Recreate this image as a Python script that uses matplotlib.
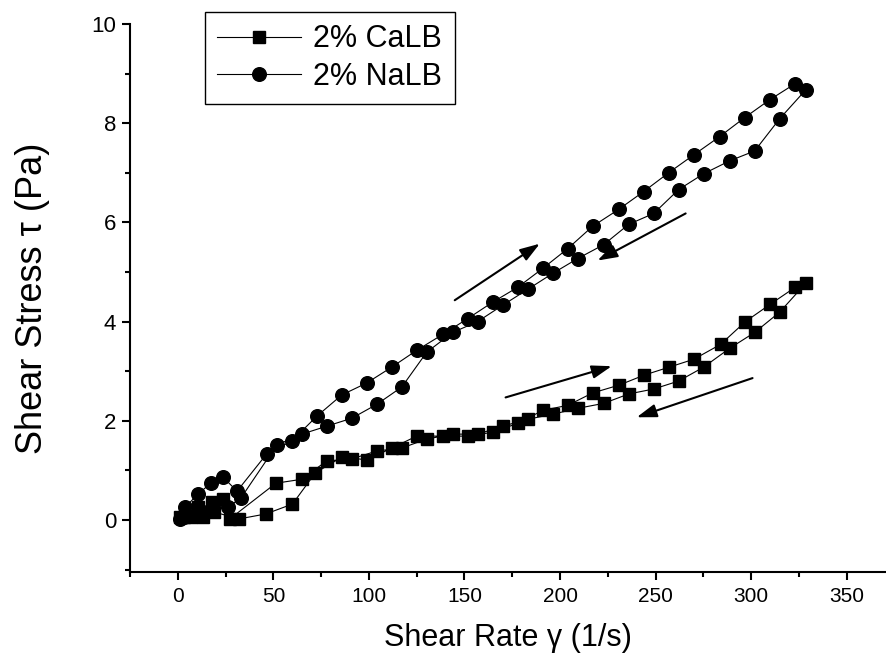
import matplotlib
matplotlib.use("Agg")
import matplotlib.pyplot as plt
from matplotlib.ticker import MultipleLocator

plt.rcParams['font.family'] = ['Liberation Sans', 'DejaVu Sans']

# ---- data ----
calb_x = [1, 7, 19, 32, 46, 60, 72, 86, 99, 112, 125, 139, 152, 165, 178, 191, 204, 217, 231, 244,
          257, 270, 284, 297, 310, 323,
          328.5, 314.9, 301.8, 288.7, 275.1, 262.0, 249.0, 235.9, 222.8, 209.2, 196.1, 183.1, 170.0,
          156.9, 143.8, 130.2, 117.2, 104.1, 91.0, 77.9, 64.9, 51.3, 27.2, 23.5, 17.8, 13.1, 10.5, 3]
calb_y = [0.06, 0.06, 0.16, 0.02, 0.12, 0.32, 0.95, 1.27, 1.21, 1.45, 1.69, 1.69, 1.69, 1.77, 1.95,
          2.21, 2.31, 2.56, 2.72, 2.92, 3.08, 3.24, 3.54, 4.00, 4.35, 4.69,
          4.77, 4.19, 3.78, 3.46, 3.08, 2.80, 2.64, 2.54, 2.35, 2.25, 2.13, 2.03, 1.89,
          1.73, 1.73, 1.63, 1.45, 1.39, 1.23, 1.19, 0.82, 0.74, 0.02, 0.42, 0.36, 0.06, 0.26, 0.05]

nalb_x = [1, 4, 10.5, 17.3, 23.5, 31, 46.5, 59.6, 72.7, 85.8, 98.8, 111.9, 125, 138.6, 151.7, 164.7,
          177.8, 190.9, 204, 217, 230.6, 243.7, 256.8, 269.9, 283.5, 296.5, 309.6, 322.7,
          328.5, 314.9, 301.8, 288.7, 275.1, 262.0, 249.0, 235.9, 222.8, 209.2, 196.1, 183.1, 170.0,
          156.9, 143.8, 130.2, 117.2, 104.1, 91.0, 77.9, 64.9, 51.8, 33, 26.2, 13, 3]
nalb_y = [0.02, 0.26, 0.52, 0.74, 0.87, 0.58, 1.33, 1.59, 2.09, 2.52, 2.76, 3.08, 3.42, 3.74, 4.06,
          4.39, 4.69, 5.07, 5.47, 5.92, 6.26, 6.62, 7.00, 7.36, 7.73, 8.11, 8.47, 8.79,
          8.67, 8.09, 7.44, 7.24, 6.98, 6.66, 6.18, 5.96, 5.55, 5.27, 4.97, 4.65, 4.33,
          4.00, 3.78, 3.38, 2.68, 2.33, 2.05, 1.89, 1.73, 1.51, 0.44, 0.26, 0.15, 0.05]

# arrows: (start_x, start_y, end_x, end_y)
arrows = [
    (144.9, 4.43, 189.4, 5.57),
    (265.7, 6.18, 219.6, 5.23),
    (171.5, 2.47, 227.0, 3.10),
    (300.7, 2.86, 240.1, 2.07),
]

series_labels = ['2% CaLB', '2% NaLB']
x_ticks = [0, 50, 100, 150, 200, 250, 300, 350]
y_ticks = [0, 2, 4, 6, 8, 10]

# ---- figure ----
fig = plt.figure(figsize=(8.87, 6.64), dpi=100)
ax = fig.add_axes([130/887, 1-572/664, 755/887, (572-24)/664])

ax.plot(calb_x, calb_y, color='black', lw=0.8, marker='s', ms=9,
        mfc='black', mec='black', label=series_labels[0])
ax.plot(nalb_x, nalb_y, color='black', lw=0.8, marker='o', ms=9.8,
        mfc='black', mec='black', label=series_labels[1])

for sx, sy, ex, ey in arrows:
    ax.annotate('', xy=(ex, ey), xytext=(sx, sy),
                arrowprops=dict(arrowstyle='-|>,head_length=0.6,head_width=0.2',
                                color='black', lw=1.5,
                                mutation_scale=20, shrinkA=0, shrinkB=0))

ax.set_xlim(-25, 370)
ax.set_ylim(-1.05, 10)
ax.set_xticks(x_ticks)
ax.set_yticks(y_ticks)
ax.xaxis.set_minor_locator(MultipleLocator(25))
ax.yaxis.set_minor_locator(MultipleLocator(1))

for s in ['top', 'right']:
    ax.spines[s].set_visible(False)
for s in ['left', 'bottom']:
    ax.spines[s].set_linewidth(1.5)

ax.tick_params(which='major', direction='out', length=6, width=1.5, pad=4)
ax.tick_params(which='minor', direction='out', length=3.5, width=1.5)
ax.tick_params(axis='y', labelsize=16)
ax.tick_params(axis='x', labelsize=15, pad=5)

ax.set_xlabel('Shear Rate γ (1/s)', fontsize=22, labelpad=12)
ax.set_ylabel('Shear Stress τ (Pa)', fontsize=26, labelpad=30)

leg = ax.legend(loc='upper left', bbox_to_anchor=(205/887, 1-12/664),
                bbox_transform=fig.transFigure, borderaxespad=0,
                fontsize=22, handlelength=2.75, handletextpad=0.4,
                borderpad=0.4, labelspacing=0.25, fancybox=False,
                framealpha=1, edgecolor='black')
leg.get_frame().set_linewidth(1.0)

fig.savefig('out.png', dpi=100)
